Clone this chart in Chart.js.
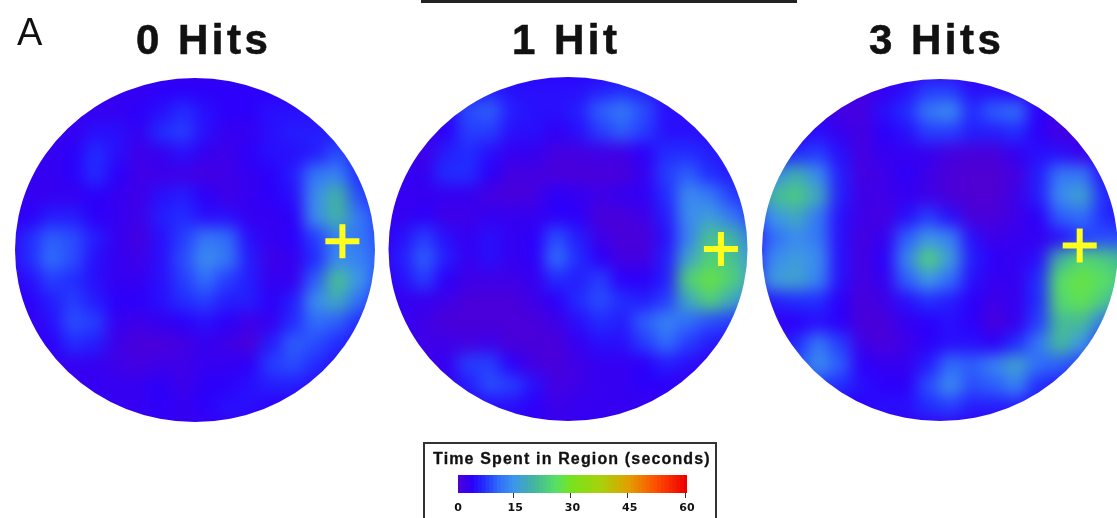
<!DOCTYPE html>
<html>
<head>
<meta charset="utf-8">
<script src="https://cdn.jsdelivr.net/npm/chart.js@4"></script>
<style>
  html, body { margin: 0; padding: 0; background: #fff; }
  #page { position: relative; width: 1117px; height: 518px; overflow: hidden; filter: blur(0.6px); font-family: "Liberation Sans", Arial, sans-serif; }
  #page canvas { position: absolute; }
  .title { position: absolute; top: 16px; font-weight: bold; font-size: 42px; letter-spacing: 3.5px; color: #111; white-space: nowrap; -webkit-text-stroke: 0.6px #111; }
  #panel-letter { position: absolute; left: 17px; top: 11px; font-size: 38px; color: #111; }
  #top-rule { position: absolute; left: 421px; top: 0; width: 376px; height: 3px; background: #222; }
  #legend-box { position: absolute; left: 423px; top: 442px; width: 290px; height: 90px; border: 2px solid #333; }
  #legend-title { position: absolute; left: 433px; top: 450px; font-weight: bold; font-size: 16px; letter-spacing: 1.15px; color: #111; white-space: nowrap; -webkit-text-stroke: 0.3px #111; }
</style>
</head>
<body>
<div id="page">
  <div id="panel-letter">A</div>
  <div id="top-rule"></div>
  <div class="title" style="left:136px">0 Hits</div>
  <div class="title" style="left:512px">1 Hit</div>
  <div class="title" style="left:869px">3 Hits</div>
  <canvas id="panel-0" width="396" height="380" style="left:-3px;top:60px"></canvas>
  <canvas id="panel-1" width="396" height="380" style="left:370px;top:59px"></canvas>
  <canvas id="panel-2" width="396" height="380" style="left:742px;top:60px"></canvas>
  <div id="legend-box"></div>
  <div id="legend-title">Time Spent in Region (seconds)</div>
  <canvas id="legend" width="291" height="74" style="left:425px;top:444px"></canvas>
</div>
<script>
// seconds spent per arena cell
const hits0Grid = [
  [3,3,3,3,3,3,3,3,3,3,3,3,3,3,3,3,3,3],
  [3,3,3,3,3,3,3,4,4,4,4,4,4,4,4,4,4,4],
  [3,3,3,3,3,3,4,5,7,5,4,4,5,5,5,5,5,5],
  [3,3,3,3,5,5,3,7,8,5,3,3,5,6,6,6,6,6],
  [3,3,3,4,7,5,2,3,5,3,2,4,5,5,6,9,7,7],
  [3,3,3,4,7,4,2,2,2,1.5,2,3,4,6,12,13,7,6],
  [3,3,3,3,4,3,2,5,6,4,2,3,4,5,14,20,9,6],
  [3,4,6,6,4,3,2,6,7,5,5,3,3,4,14,20,12,8],
  [3,7,10,9,6,3,1.5,5,8,12,11,5,3,4,8,13,12,9],
  [3,7,11,9,5,3,2,5,9,14,12,6,2,3,7,14,13,10],
  [3,5,8,7,5,3,3,5,8,11,8,6,3,3,10,22,15,9],
  [3,4,6,8,6,4,4,5,7,8,6,6,4,6,14,18,11,7],
  [3,3,5,9,8,3,2,3,4,5,4,2,3,7,11,10,7,5],
  [3,3,4,7,6,2,1,1,1.5,3,2,1,6,10,9,7,5,5],
  [3,3,3,3,3,2,1.5,2,2,3,3,4,8,9,7,5,5,5],
  [3,3,3,3,3,3,3,4,2,4,4,5,6,6,5,4,4,4],
  [3,3,3,3,3,3,3,4,3,4,5,5,4,4,4,3,3,3],
  [3,3,3,3,3,3,3,3,3,3,3,3,3,3,3,3,3,3]
];
const hits1Grid = [
  [3,3,3,3,3,4,4,4,4,4,4,4,4,4,4,3,3,3],
  [3,3,3,3,5,6,5,5,5,5,6,7,6,5,4,3,3,3],
  [3,3,3,4,9,10,6,5,5,6,10,12,9,5,5,4,4,4],
  [3,3,2,4,8,8,5,5,3.5,5,8,10,8,5,5,5,5,5],
  [2.5,2.5,2,6,7,5,3,3,1.5,1.5,2,2,4,7,7,6,5,5],
  [3,3,3,7,7,4,1.5,1.5,1,1,1,1,3,8,10,7,6,5],
  [3,3,3,3,3,1.5,1,1.5,4,3,2,3,3.5,7,14,12,8,6],
  [3,3,4,2,2,3,3,3,4,4,1,1,2,6,14,16,12,8],
  [3,5,8,5,3,5,3,4,9,6,2,1,1,5,13,22,20,12],
  [3,6,10,6,3,5,3,4,11,7,4,1.5,1.5,6,17,24,22,15],
  [3,5,8,4,2,2,2,3,7,6,8,4,4,6,24,28,24,17],
  [3,3,3,2,1,1,1,2,4,7,9,7,6,8,18,24,18,12],
  [3,3,2,1,1,1,1,1,2,5,7,6,10,13,11,9,8,7],
  [3,3,2,2,1.5,2,1,1,1,3,5,5,8,11,8,6,5,5],
  [3,3,2,3,8,8,4,1.5,1,2,3,3,4,6,5,3,3,3],
  [3,3,3,3,6,9,8,5,1.5,2,3,3,4,4,3,3,3,3],
  [3,3,3,3,4,5,5,4,2,3,3,3,3,3,3,3,3,3],
  [3,3,3,3,3,3,3,3,3,3,3,3,3,3,3,3,3,3]
];
const hits3Grid = [
  [3,3,3,3,3,3,3,3,3,3,3,3,3,3,3,3,3,3],
  [3,3,3,3,2,1.5,3,5,8,8,5,5,4,3,3,3,3,3],
  [3,3,3,3,1.5,1.5,5,7,12,14,7,10,11,4,2,3,3,3],
  [3,3,3,5,3,1.5,4,5,8,8,6,6,7,4,1.5,2,3,3],
  [3,5,7,8,5,1.5,3,3,3,1.5,1,1,3,5,5,2.5,4,4],
  [6,14,19,14,6,1.5,2,4,2,0.8,0.5,0.5,1.5,6,12,12,5,5],
  [10,21,23,18,6,2,2,3,2,1,0.5,0.5,2,6,14,17,7,5],
  [8,15,18,12,5,2,1.5,5,8,5,1,1,2,4,10,11,7,5],
  [5,11,14,12,5,1.5,3,10,15,13,5,2,3,3,5,8,9,9],
  [6,14,16,14,5,1.5,4,13,24,16,6,4,3,5,20,25,23,20],
  [7,16,17,13,5,1.5,3,10,15,11,5,3,3,7,26,28,26,22],
  [4,6,7,7,4,1,2,5,7,6,4,2,3,7,25,27,23,15],
  [3,3,4,5,4,1,1,3,4,5,4,1,3,8,21,21,12,7],
  [3,3,7,12,8,2,1,2,4,5,5,4,7,12,21,15,7,6],
  [3,5,9,14,10,4,3,3,6,11,10,13,17,11,10,8,6,5],
  [3,3,5,8,7,5,4,4,9,14,9,10,13,7,6,5,4,4],
  [3,3,3,3,4,4,5,5,7,8,6,6,6,5,3,3,3,3],
  [3,3,3,3,3,3,3,3,3,3,3,3,3,3,3,3,3,3]
];
const targetCols = [15.2, 15.45, 14.85];
const targetRows = [8.08, 8.5, 8.29];
const legendSeconds = Array.from({ length: 61 }, (_, i) => i);
const legendTicks = [0, 15, 30, 45, 60];

// colour map: seconds -> rgb
const MAP_SECONDS = [0, 2, 4, 7, 11, 15, 20, 26, 30, 38, 45, 52, 60];
const MAP_COLORS = [
  [84, 0, 204], [62, 0, 232], [44, 0, 250], [34, 44, 255], [48, 110, 250], [62, 150, 235], [66, 180, 160],
  [88, 224, 100], [120, 226, 30], [170, 208, 10], [226, 160, 0], [255, 80, 0], [238, 0, 0],
];

function heatColor(v) {
  let i = 0;
  while (i < MAP_SECONDS.length - 2 && v > MAP_SECONDS[i + 1]) i++;
  const t = Math.min(1, (v - MAP_SECONDS[i]) / (MAP_SECONDS[i + 1] - MAP_SECONDS[i]));
  const c = MAP_COLORS[i].map((a, k) => Math.round(a + (MAP_COLORS[i + 1][k] - a) * t));
  return `rgb(${c[0]},${c[1]},${c[2]})`;
}

// blurs the cells together and trims them to the arena outline
const arenaPlugin = {
  id: "arena",
  afterDatasetDraw(chart, args, opts) {
    if (args.index !== 1) return;
    const { ctx, canvas } = chart;
    const copy = document.createElement("canvas");
    copy.width = canvas.width;
    copy.height = canvas.height;
    copy.getContext("2d").drawImage(canvas, 0, 0);
    ctx.save();
    ctx.setTransform(1, 0, 0, 1, 0, 0);
    ctx.clearRect(0, 0, canvas.width, canvas.height);
    ctx.filter = "blur(8px)";
    ctx.drawImage(copy, 0, 0);
    ctx.filter = "none";
    ctx.globalCompositeOperation = "destination-in";
    ctx.beginPath();
    ctx.ellipse(canvas.width / 2, canvas.height / 2, opts.rx, opts.ry, 0, 0, Math.PI * 2);
    ctx.fill();
    ctx.restore();
  },
};

function drawPanel(id, grid, col, row, rx, ry) {
  const cells = [];
  const colors = [];
  grid.forEach((rowValues, r) => rowValues.forEach((v, c) => {
    cells.push({ x: c, y: r });
    colors.push(heatColor(v));
  }));
  new Chart(document.getElementById(id), {
    type: "scatter",
    data: {
      datasets: [
        { data: [{ x: col, y: row }], pointStyle: "cross", pointRadius: 17, pointBorderWidth: 6, pointBorderColor: "#ffff1e" },
        { data: cells, pointStyle: "rect", pointRadius: 17, pointBorderWidth: 0, pointBackgroundColor: colors },
      ],
    },
    options: {
      responsive: false,
      animation: false,
      events: [],
      layout: { autoPadding: false },
      scales: {
        x: { display: false, min: -0.5, max: 17.5 },
        y: { display: false, min: -0.5, max: 17.5, reverse: true },
      },
      plugins: { legend: { display: false }, tooltip: { enabled: false }, arena: { rx, ry } },
    },
    plugins: [arenaPlugin],
  });
}

drawPanel("panel-0", hits0Grid, targetCols[0], targetRows[0], 180, 172);
drawPanel("panel-1", hits1Grid, targetCols[1], targetRows[1], 179.5, 172);
drawPanel("panel-2", hits3Grid, targetCols[2], targetRows[2], 178, 171);

const legendTickColor = (ctx) => (ctx.tick && legendTicks.includes(legendSeconds[ctx.tick.value]) ? "#333" : "transparent");

new Chart(document.getElementById("legend"), {
  type: "bar",
  data: {
    labels: legendSeconds,
    datasets: [{
      data: legendSeconds.map(() => 1),
      backgroundColor: legendSeconds.map(heatColor),
      barPercentage: 1,
      categoryPercentage: 1.6,
    }],
  },
  options: {
    responsive: false,
    animation: false,
    events: [],
    layout: { padding: { left: 33, right: 29, top: 31, bottom: 7 } },
    scales: {
      x: {
        offset: false,
        grid: { drawOnChartArea: false, tickLength: 5, tickColor: legendTickColor },
        border: { display: false },
        ticks: {
          autoSkip: false,
          maxRotation: 0,
          padding: 4,
          color: "#111",
          font: { size: 11, weight: "bold", family: "DejaVu Sans" },
          callback: (v) => (legendTicks.includes(legendSeconds[v]) ? String(legendSeconds[v]) : ""),
        },
      },
      y: { display: false, min: 0, max: 1 },
    },
    plugins: { legend: { display: false }, tooltip: { enabled: false } },
  },
});
</script>
</body>
</html>
